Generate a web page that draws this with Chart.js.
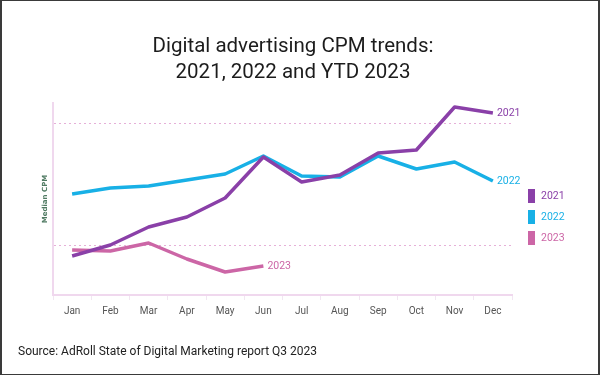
<!DOCTYPE html>
<html>
<head>
<meta charset="utf-8">
<script src="https://cdn.jsdelivr.net/npm/chart.js@4.4.0/dist/chart.umd.min.js"></script>
<style>
  html, body { margin: 0; padding: 0; background: #fff; }
  #frame {
    position: relative; width: 600px; height: 375px; box-sizing: border-box;
    border: 1px solid #3a3a3a; border-left-width: 2px; border-right-width: 2px;
    background: #fff; overflow: hidden;
  }
  #chart { position: absolute; left: -2px; top: -1px; }
  #title {
    position: absolute; left: 0; width: 582px; top: 31px; text-align: center;
    font-family: Roboto, "Noto Sans", sans-serif; font-size: 20.5px; line-height: 26px; color: #1c1c1c;
  }
  #source {
    position: absolute; left: 16px; top: 343px;
    font-family: Roboto, "Noto Sans", sans-serif; font-size: 12px; color: #222;
  }
</style>
</head>
<body>
<div id="frame">
  <canvas id="chart" width="600" height="375"></canvas>
  <div id="title">Digital advertising CPM trends:<br>2021, 2022 and YTD 2023</div>
  <div id="source">Source: AdRoll State of Digital Marketing report Q3 2023</div>
</div>
<script>
  // --- DATOS ---
  const months = ["Jan", "Feb", "Mar", "Apr", "May", "Jun", "Jul", "Aug", "Sep", "Oct", "Nov", "Dec"];
  const cpm2021 = [39, 50, 68, 78, 97, 138, 113, 120, 142, 145, 188, 182];
  const cpm2022 = [101, 107, 109, 115, 121, 139, 119, 118, 139, 126, 133, 114];
  const cpm2023 = [45, 44, 52, 36, 23, 29];
  const guideTicks = [50, 172];
  const yMax = 192;

  const NARROW = "'Liberation Sans Narrow', 'Roboto', sans-serif";

  // --- PLUGIN: etiquetas al final, leyenda y título del eje ---
  const extrasPlugin = {
    id: "extras",
    afterDatasetsDraw(chart) {
      const ctx = chart.ctx;
      ctx.save();
      ctx.font = "10.5px " + NARROW;
      ctx.textBaseline = "middle";
      chart.data.datasets.forEach((ds, i) => {
        const pts = chart.getDatasetMeta(i).data;
        const last = pts[pts.length - 1];
        ctx.fillStyle = ds.borderColor;
        ctx.fillText(ds.label, last.x + 4, last.y);
      });

      // leyenda
      const legendY = [196, 217, 238];
      chart.data.datasets.forEach((ds, i) => {
        ctx.fillStyle = ds.borderColor;
        ctx.fillRect(528, legendY[i] - 7, 7, 14);
        ctx.fillText(ds.label, 541, legendY[i]);
      });

      // título del eje Y
      const { top, bottom } = chart.chartArea;
      ctx.translate(45, (top + bottom) / 2);
      ctx.rotate(-Math.PI / 2);
      ctx.textAlign = "center";
      ctx.font = "bold 7px 'DejaVu Sans', sans-serif";
      ctx.fillStyle = "#4f7a62";
      ctx.fillText("Median CPM", 0, 0);
      ctx.restore();
    }
  };

  const mkSet = (label, data, color) => ({
    label, data,
    borderColor: color,
    backgroundColor: color,
    borderWidth: 3.5,
    pointRadius: 0,
    tension: 0,
    borderJoinStyle: "round",
    fill: false
  });

  new Chart(document.getElementById("chart").getContext("2d"), {
    type: "line",
    data: {
      labels: months,
      datasets: [
        mkSet("2021", cpm2021, "#8a40a8"),
        mkSet("2022", cpm2022, "#18b0e6"),
        mkSet("2023", cpm2023, "#cc66a6")
      ]
    },
    options: {
      responsive: false,
      animation: false,
      layout: { padding: { top: 103, right: 88, left: 0, bottom: 0 } },
      plugins: {
        legend: { display: false },
        tooltip: { enabled: false }
      },
      scales: {
        x: {
          offset: true,
          afterFit: (s) => { s.height = 80; },
          border: { color: "#f0d8ee", width: 2 },
          grid: {
            offset: true,
            drawOnChartArea: false,
            drawTicks: true,
            tickLength: 5,
            color: "#f2e6f2",
            tickColor: "#f2e6f2"
          },
          ticks: {
            color: "#555",
            font: { family: NARROW, size: 10 },
            padding: 5,
            maxRotation: 0
          }
        },
        y: {
          min: 0,
          max: yMax,
          afterFit: (s) => { s.width = 53; },
          afterBuildTicks: (s) => { s.ticks = guideTicks.map((v) => ({ value: v })); },
          border: { color: "#f0d8ee", width: 2, dash: [2, 3] },
          grid: {
            drawTicks: false,
            color: "#e6b0d8",
            lineWidth: 1
          },
          ticks: { display: false }
        }
      }
    },
    plugins: [extrasPlugin]
  });
</script>
</body>
</html>
